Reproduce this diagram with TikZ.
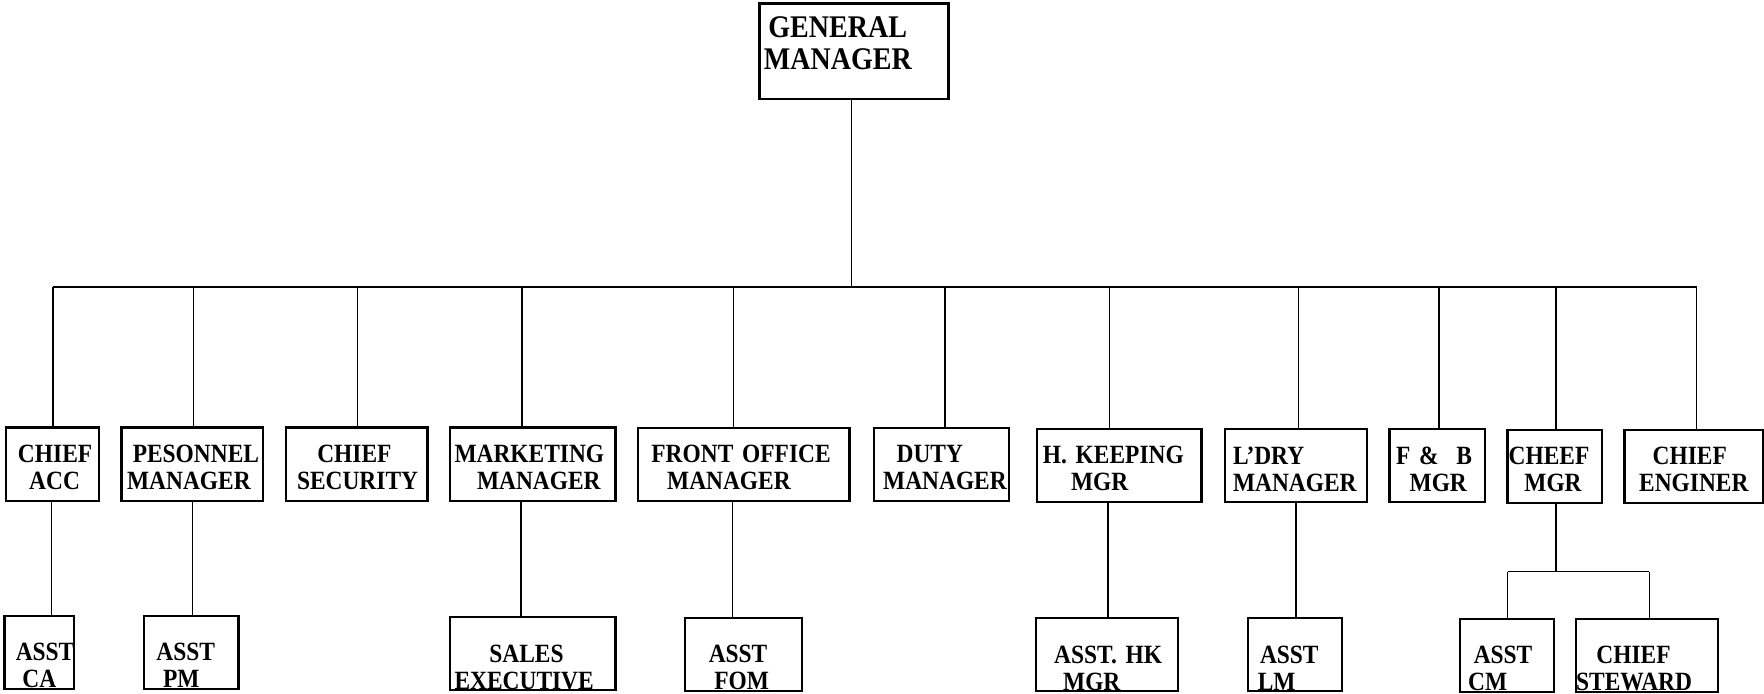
\documentclass[tikz,border=0pt]{standalone}
\usepackage{fontspec}
\setmainfont{Liberation Serif}[FakeStretch=0.89]
\newcommand{\orgfont}{\bfseries\fontsize{11.7}{12}\selectfont}
\newcommand{\gmfont}{\bfseries\fontsize{14}{14.5}\selectfont}
\newcommand{\pushx}[1]{\hspace*{#1pt}}
\tikzset{
  box/.style={draw, line width=1pt, inner sep=0pt, align=left, font=\orgfont},
  bw/.style={minimum width=#1, text width=#1},
  mid/.style={box, minimum height=32.5pt, text height=6.5pt, text depth=8pt},
  low/.style={box, minimum height=32.5pt, text height=12.5pt, text depth=5pt},
  conn/.style={line width=0.65pt},
}
\begin{document}
\begin{tikzpicture}[x=0.5pt,y=-0.5pt]
\useasboundingbox (0,0) rectangle (1568,616);
% top
\node[box, font=\gmfont, bw=84pt, minimum height=42.5pt, text height=1.5pt, text depth=14pt] (gm) at (759,45.5) {\pushx{4}GENERAL\\\pushx{2}MANAGER};
% middle row
\node[mid, bw=41.5pt] (acc) at (46.5,412.5) {\pushx{5.5}CHIEF\\\pushx{10.5}ACC};
\node[mid, bw=63pt] (pers) at (171,412.5) {\pushx{5}PESONNEL\\\pushx{2.5}MANAGER};
\node[mid, bw=63pt] (sec) at (317,412.5) {\pushx{14}CHIEF\\\pushx{5}SECURITY};
\node[mid, bw=73.5pt] (mkt) at (473.5,412.5) {\pushx{2}MARKETING\\\pushx{12}MANAGER};
\node[mid, bw=94pt] (fo) at (661,413) {\pushx{6}FRONT OFFICE\\\pushx{13}MANAGER};
\node[mid, bw=60pt] (duty) at (837,413) {\pushx{10}DUTY\\\pushx{4}MANAGER};
\node[mid, bw=73pt] (hk) at (995,413.5) {\pushx{2.5}H. KEEPING\\\pushx{15}MGR};
\node[mid, bw=63pt] (ldry) at (1152,414) {\pushx{3.5}L’DRY\\\pushx{3.5}MANAGER};
\node[mid, bw=42.5pt] (fb) at (1277.5,414) {\pushx{3}F \&\ \ B\\\pushx{9}MGR};
\node[mid, bw=42pt] (cheef) at (1382,414.5) {\pushx{0.5}CHEEF\\\pushx{7.5}MGR};
\node[mid, bw=61.5pt] (eng) at (1505.5,414.5) {\pushx{12.5}CHIEF\\\pushx{6.5}ENGINER};
% bottom row
\node[low, bw=31pt] (ca) at (35,580) {\pushx{5}ASST\\\pushx{8}CA};
\node[low, bw=42pt] (pm) at (170,580) {\pushx{5.5}ASST\\\pushx{8.5}PM};
\node[low, bw=73.5pt] (sales) at (473.5,581) {\pushx{17.5}SALES\\\pushx{2}EXECUTIVE};
\node[low, bw=52pt] (fom) at (661,581.5) {\pushx{10.5}ASST\\\pushx{13}FOM};
\node[low, bw=63pt] (hkm) at (984,582) {\pushx{8}ASST. HK\\\pushx{12}MGR};
\node[low, bw=42pt] (lm) at (1151,582) {\pushx{5.5}ASST\\\pushx{4.5}LM};
\node[low, bw=41.5pt] (cm) at (1339.5,582.5) {\pushx{6}ASST\\\pushx{3.5}CM};
\node[low, bw=63pt] (stew) at (1464,582.5) {\pushx{9}CHIEF\\\pushx{0}STEWARD};
% connectors
\coordinate (gmj) at (757,255);
\coordinate (busL) at (47,255);
\coordinate (busR) at (1508,255);
\draw[conn] (gm.south -| gmj) -- (gmj);
\draw[conn] (busL) -- (busR);
\foreach \x/\n in {47/acc,172/pers,318/sec,464/mkt,652/fo,840/duty,986/hk,1154/ldry,1279/fb,1383/cheef,1508/eng}{
  \coordinate (d\n) at (\x,255);
  \draw[conn] (d\n) -- (d\n |- \n.north);
}
\foreach \x/\p/\c in {46/acc/ca,171/pers/pm,463/mkt/sales,651/fo/fom,985/hk/hkm,1152/ldry/lm}{
  \coordinate (e\c) at (\x,500);
  \draw[conn] (e\c |- \p.south) -- (e\c |- \c.north);
}
\coordinate (fk) at (1383,508);
\coordinate (fkL) at (1340,508);
\coordinate (fkR) at (1466,508);
\draw[conn] (cheef.south -| fk) -- (fk);
\draw[conn] (fkL) -- (fkR);
\draw[conn] (fkL) -- (fkL |- cm.north);
\draw[conn] (fkR) -- (fkR |- stew.north);
\end{tikzpicture}
\end{document}
